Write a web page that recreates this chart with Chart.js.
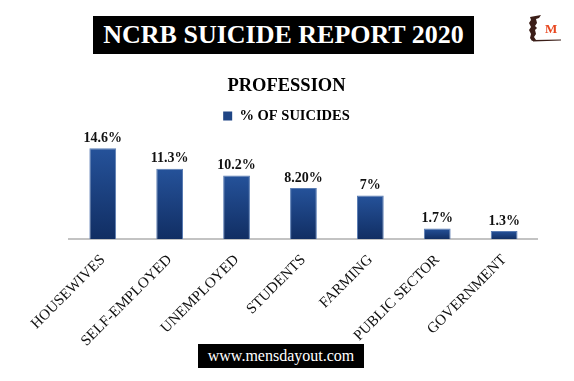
<!DOCTYPE html>
<html>
<head>
<meta charset="utf-8">
<script src="https://cdn.jsdelivr.net/npm/chart.js@4.4.1/dist/chart.umd.min.js"></script>
<style>
  html, body { margin: 0; padding: 0; background: #ffffff; }
  #wrap { position: relative; width: 574px; height: 381px; overflow: hidden; background: #fff; }
  #c { position: absolute; left: 0; top: 0; }
  .box { position: absolute; background: #000; color: #fff; font-family: "Liberation Serif", "DejaVu Serif", serif; text-align: center; white-space: nowrap; }
  #title { left: 93px; top: 16px; width: 381px; height: 38px; line-height: 38px; font-size: 26px; font-weight: bold; }
  #footer { left: 198px; top: 344px; width: 166px; height: 24px; line-height: 24px; font-size: 16px; }
  #logoM { position: absolute; left: 545px; top: 22px; font-family: "Liberation Serif", serif; font-weight: bold; font-size: 13px; color: #e8461e; line-height: 13px; }
  #logo { position: absolute; left: 526px; top: 14px; }
</style>
</head>
<body>
<div id="wrap">
  <canvas id="c" width="574" height="381"></canvas>
  <div class="box" id="title">NCRB SUICIDE REPORT 2020</div>
  <svg id="logo" width="40" height="30" viewBox="0 0 40 30">
    <path d="M4 3 L15 1 L13 4 L10 5 L11 9 L9 12 L11 14 L9 16 L10 20 L8 23 L10 26 L6 27 L4 24 L5 20 L3 16 L5 13 L3 9 L5 6 Z" fill="#3b1e18"/>
    <path d="M7 26 L35 25.5 L35 26.5 L7 27.5 Z" fill="#3b1e18"/>
  </svg>
  <div id="logoM">M</div>
  <div class="box" id="footer">www.mensdayout.com</div>
</div>
<script>
// ---- data ----
const categories = ["HOUSEWIVES", "SELF-EMPLOYED", "UNEMPLOYED", "STUDENTS", "FARMING", "PUBLIC SECTOR", "GOVERNMENT"];
const suicidePercent = [14.6, 11.3, 10.2, 8.2, 7, 1.7, 1.3];
const valueLabels = ["14.6%", "11.3%", "10.2%", "8.20%", "7%", "1.7%", "1.3%"];
const seriesName = "% OF SUICIDES";
const chartTitle = "PROFESSION";

const SERIF = '"Liberation Serif", "DejaVu Serif", serif';

function barGradient(context) {
  const chart = context.chart;
  const y = chart.scales && chart.scales.y;
  if (!chart.chartArea || !y || context.raw === undefined) return '#1b3f78';
  const top = y.getPixelForValue(context.raw);
  const base = y.getPixelForValue(0);
  const g = chart.ctx.createLinearGradient(0, top, 0, base);
  g.addColorStop(0, '#25529a');
  g.addColorStop(1, '#112e63');
  return g;
}

const valueLabelPlugin = {
  id: 'valueLabels',
  afterDatasetsDraw(chart) {
    const ctx = chart.ctx;
    const meta = chart.getDatasetMeta(0);
    ctx.save();
    ctx.font = 'bold 14px ' + SERIF;
    ctx.fillStyle = '#111';
    ctx.textAlign = 'center';
    ctx.textBaseline = 'alphabetic';
    meta.data.forEach((el, i) => {
      ctx.fillText(valueLabels[i], el.x, el.y - 6.5);
    });
    ctx.restore();
  }
};

new Chart(document.getElementById('c'), {
  type: 'bar',
  data: {
    labels: categories,
    datasets: [{
      label: seriesName,
      data: suicidePercent,
      backgroundColor: barGradient,
      borderColor: '#5a7cb3',
      borderWidth: 1,
      barPercentage: 0.8,
      categoryPercentage: 0.5
    }]
  },
  options: {
    responsive: false,
    animation: false,
    devicePixelRatio: 1,
    layout: { padding: { top: 65.5, left: 0, right: 1, bottom: 0 } },
    plugins: {
      title: {
        display: true,
        text: chartTitle,
        color: '#000',
        font: { family: SERIF, size: 18.5, weight: 'bold', lineHeight: 1.2 },
        padding: { top: 10, bottom: 5 }
      },
      legend: {
        display: true,
        position: 'top',
        labels: {
          color: '#000',
          font: { family: SERIF, size: 14.5, weight: 'bold' },
          boxWidth: 9,
          boxHeight: 9,
          padding: 6,
          generateLabels(chart) {
            return [{ text: seriesName, fillStyle: '#1f4585', strokeStyle: '#1f4585', lineWidth: 0, datasetIndex: 0, fontColor: '#000' }];
          }
        }
      },
      tooltip: { enabled: false }
    },
    scales: {
      x: {
        grid: { display: false },
        border: { display: true, color: '#c3c3c3', width: 2 },
        ticks: {
          color: '#111',
          font: { family: SERIF, size: 15 },
          maxRotation: 45,
          minRotation: 45,
          autoSkip: false,
          padding: 4
        },
        afterFit(s) { s.height = 141.8; }
      },
      y: {
        min: 0,
        max: 17,
        position: 'left',
        grid: { display: false },
        border: { display: false },
        ticks: { display: false },
        afterFit(s) { s.width = 69.3; }
      },
      y2: {
        type: 'linear',
        position: 'right',
        grid: { display: false },
        border: { display: false },
        ticks: { display: false },
        afterFit(s) { s.width = 35.4; }
      }
    }
  },
  plugins: [valueLabelPlugin]
});
</script>
</body>
</html>
